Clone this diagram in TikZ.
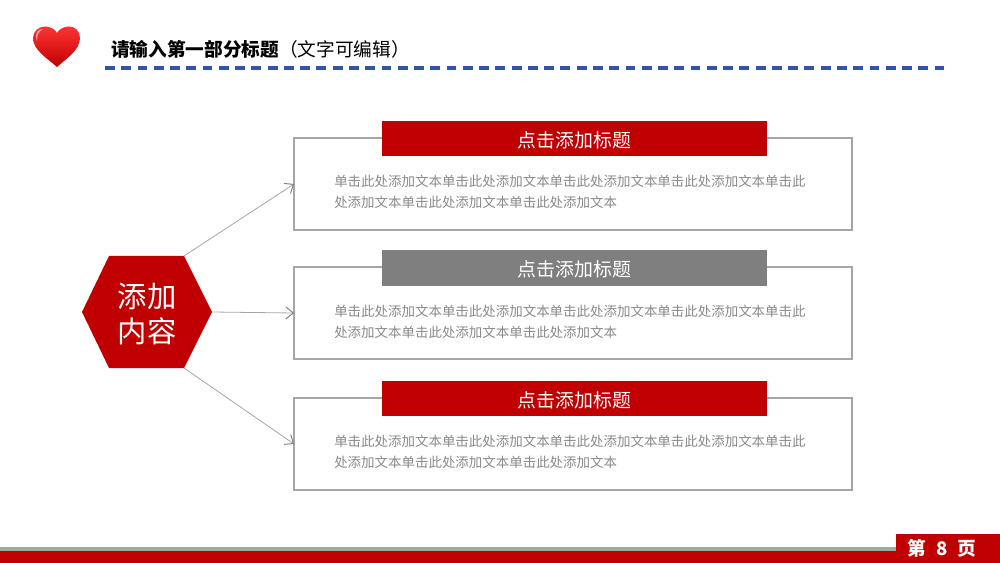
\documentclass[tikz,border=0pt]{standalone}
\usepackage{fontspec}
\setmainfont{Noto Sans CJK SC}
\newfontfamily\cjk{Noto Sans CJK SC}
\usetikzlibrary{arrows.meta}
\definecolor{deepred}{HTML}{C00000}
\definecolor{barblue}{HTML}{2F569F}
\definecolor{bodygrey}{HTML}{7F7F7F}
\definecolor{textgrey}{HTML}{8A8A8A}
\definecolor{edgegrey}{HTML}{A6A6A6}
\tikzset{
	bodybox/.style={draw=edgegrey, line width=0.8pt, fill=white, minimum width=418.5pt, minimum height=69pt, inner sep=0pt, outer sep=0pt},
	headbox/.style={minimum width=288.5pt, minimum height=26.5pt, inner sep=0pt, text=white, text height=13pt, text depth=0pt, font=\cjk\fontsize{14.2}{16}\selectfont},
	bodytext/.style={anchor=north west, inner sep=0pt, align=left, text=textgrey, font=\cjk\fontsize{10.1}{15.75}\selectfont},
	pointer/.style={draw=edgegrey, line width=0.6pt, -{Straight Barb[length=5.5pt,width=9pt,line width=0.7pt,color=bodygrey]}},
}
\begin{document}
\begin{tikzpicture}[x=0.75pt, y=-0.75pt]
	\useasboundingbox (0, 0) rectangle (1000, 563);
	\fill[white] (0, 0) rectangle (1000, 563);

	%%%%% TOP %%%%%
	\draw[draw=none, top color=red!80!white, bottom color=deepred]
		(57, 67) .. controls (47, 58) and (33, 50) .. (33, 38)
		.. controls (33, 31) and (39, 26.5) .. (45, 26.5)
		.. controls (50, 26.5) and (55, 29) .. (57, 33)
		.. controls (59, 29) and (64, 26.5) .. (69, 26.5)
		.. controls (75, 26.5) and (80, 31) .. (80, 38)
		.. controls (80, 50) and (67, 58) .. (57, 67) -- cycle;
	\fill[white, opacity=0.55] (37, 41) .. controls (34, 33) and (38, 29) .. (43, 29)
		.. controls (39, 31) and (37, 35) .. (37, 41) -- cycle;
	\node[anchor=west, inner sep=0pt, font=\cjk\fontsize{14}{16}\selectfont, text=black] (pagetitle) at (111, 49)
		{\textbf{请输入第一部分标题}（文字可编辑）};
	\draw[barblue, line width=2.3pt, dash pattern=on 7.4pt off 4.8pt] (105, 68) -- (945, 68);

	%%%%% BOXES %%%%%
	\node[bodybox] (bodya) at (573, 184) {};
	\node[bodybox] (bodyb) at (573, 313) {};
	\node[bodybox] (bodyc) at (573, 444) {};

	\node[headbox, fill=deepred] (heada) at (574.3, 138.5) {点击添加标题};
	\node[headbox, fill=bodygrey] (headb) at (574.3, 268) {点击添加标题};
	\node[headbox, fill=deepred] (headc) at (574.3, 398.5) {点击添加标题};

	\node[bodytext] (texta) at (334, 175) {单击此处添加文本单击此处添加文本单击此处添加文本单击此处添加文本单击此\\处添加文本单击此处添加文本单击此处添加文本};
	\node[bodytext] (textb) at (334, 305) {单击此处添加文本单击此处添加文本单击此处添加文本单击此处添加文本单击此\\处添加文本单击此处添加文本单击此处添加文本};
	\node[bodytext] (textc) at (334, 435) {单击此处添加文本单击此处添加文本单击此处添加文本单击此处添加文本单击此\\处添加文本单击此处添加文本单击此处添加文本};

	%%%%% HEXAGON %%%%%
	\coordinate (hexne) at (184, 256);
	\coordinate (hexe) at (212, 312);
	\coordinate (hexse) at (184, 368);
	\fill[deepred] (hexne) -- (hexe) -- (hexse) -- (109, 368) -- (82, 312) -- (109, 256) -- cycle;
	\node[inner sep=0pt, text=white, align=center, font=\cjk\fontsize{22}{26.5}\selectfont] (hex) at (147, 314) {添加\\内容};

	\draw[pointer] (hexne) -- (bodya.west);
	\draw[pointer] (hexe) -- (bodyb.west);
	\draw[pointer] (hexse) -- (bodyc.west);

	%%%%% BOTTOM %%%%%
	\fill[edgegrey] (0, 547) rectangle (896, 552);
	\fill[deepred] (0, 551) rectangle (1000, 563);
	\node[anchor=north west, minimum width=78pt, minimum height=21.75pt, inner sep=0pt, fill=deepred, text=white,
		font=\cjk\fontsize{14}{16}\selectfont\bfseries] (pagetab) at (896, 534) {\hspace{-9pt}第\hspace{7.5pt}8\hspace{7.5pt}页};
\end{tikzpicture}
\end{document}
